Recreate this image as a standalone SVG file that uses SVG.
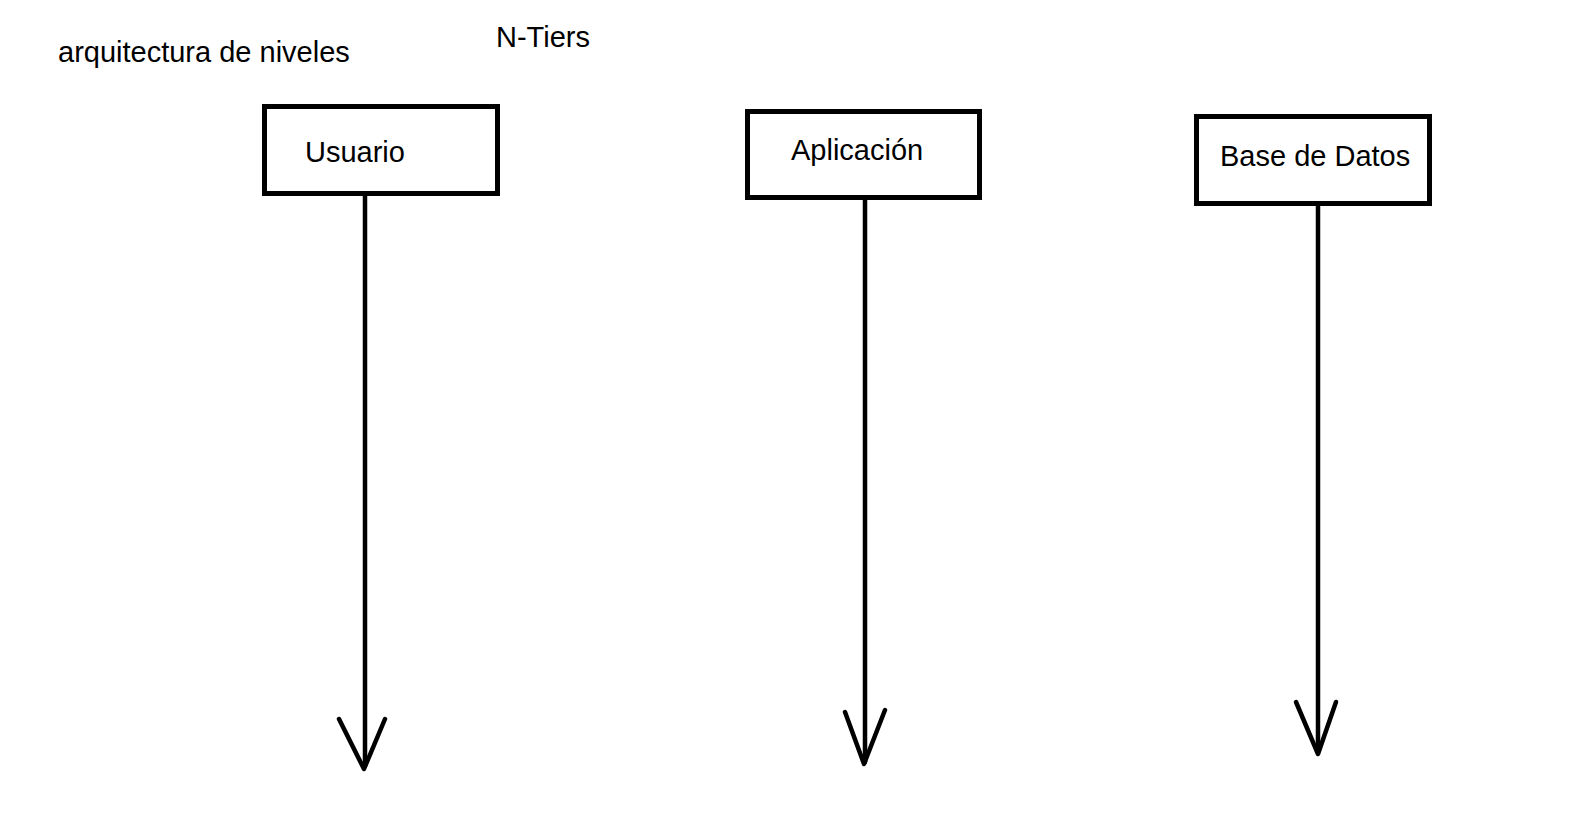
<svg xmlns="http://www.w3.org/2000/svg" width="1577" height="823" viewBox="0 0 1577 823">
<style>
.t{font-family:"Liberation Sans",Arial,sans-serif;font-size:29px;fill:#000}
.box{fill:#fff;stroke:#000;stroke-width:5}
.ln{fill:none;stroke:#000;stroke-width:4.5;stroke-linecap:round;stroke-linejoin:round}
</style>
<rect width="1577" height="823" fill="#fff"/>
<text class="t" x="58" y="62">arquitectura de niveles</text>
<text class="t" x="496" y="47">N-Tiers</text>
<g id="connectors">
<path class="ln" d="M365,196 V766"/>
<path class="ln" d="M339,719 L364,769 L385,719"/>
<path class="ln" d="M865,200 V762"/>
<path class="ln" d="M845,712 L864,764 L885,710"/>
<path class="ln" d="M1318,206 V752"/>
<path class="ln" d="M1296,702 L1318,754 L1336,702"/>
</g>
<g id="usuario">
<rect class="box" x="264.5" y="106.5" width="233" height="87"/>
<text class="t" x="305" y="162">Usuario</text>
</g>
<g id="aplicacion">
<rect class="box" x="747.5" y="111.5" width="232" height="86"/>
<text class="t" x="791" y="160">Aplicación</text>
</g>
<g id="basededatos">
<rect class="box" x="1196.5" y="116.5" width="233" height="87"/>
<text class="t" x="1220" y="166">Base de Datos</text>
</g>
</svg>
